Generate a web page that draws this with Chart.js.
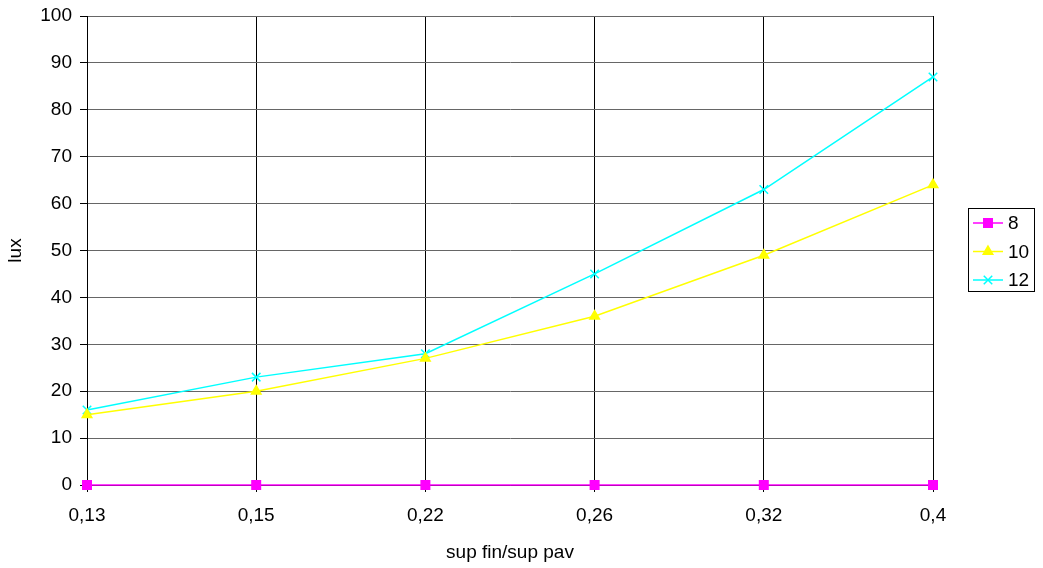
<!DOCTYPE html>
<html lang="en">
<head>
    <meta charset="UTF-8">
    <title>lux</title>
    <script src="https://cdn.jsdelivr.net/npm/chart.js"></script>
    <style>
        html, body { margin: 0; padding: 0; background: #fff; }
        #wrap { position: relative; width: 1043px; height: 568px; }
    </style>
</head>
<body>
<div id="wrap"><canvas id="myChart" width="1043" height="568"></canvas></div>
<script>
    // dữ liệu
    var categories = ['0,13', '0,15', '0,22', '0,26', '0,32', '0,4'];
    var serie8 = [0, 0, 0, 0, 0, 0];
    var serie10 = [15, 20, 27, 36, 49, 64];
    var serie12 = [16, 23, 28, 45, 63, 87];
    var seriesNames = ['8', '10', '12'];

    var font = { family: 'Arial, "Liberation Sans", sans-serif', size: 19 };

    // legend vẽ tay bên phải
    var boxLegend = {
        id: 'boxLegend',
        afterDraw: function (chart) {
            var ctx = chart.ctx;
            var x = 968.5, y = 208.5, w = 66, h = 83;
            ctx.save();
            ctx.strokeStyle = '#000';
            ctx.lineWidth = 1;
            ctx.strokeRect(x, y, w, h);
            ctx.font = '19px Arial, "Liberation Sans", sans-serif';
            ctx.textBaseline = 'middle';
            chart.data.datasets.forEach(function (ds, i) {
                var cy = 223 + i * 28.5;
                ctx.strokeStyle = ds.borderColor;
                ctx.fillStyle = ds.borderColor;
                ctx.lineWidth = 1.5;
                ctx.beginPath();
                ctx.moveTo(973, cy);
                ctx.lineTo(1003, cy);
                ctx.stroke();
                Chart.helpers.drawPoint(ctx, {
                    pointStyle: ds.pointStyle,
                    radius: ds.pointRadius,
                    borderWidth: 1.5
                }, 988, cy);
                ctx.fillStyle = '#000';
                ctx.fillText(ds.label, 1008, cy + 1);
            });
            ctx.restore();
        }
    };

    function makeSet(label, data, color, style, r) {
        return {
            label: label,
            data: data,
            borderColor: color,
            backgroundColor: color,
            pointBackgroundColor: color,
            pointBorderColor: color,
            pointStyle: style,
            pointRadius: r,
            pointBorderWidth: 1.5,
            borderWidth: 1.5,
            tension: 0,
            clip: false
        };
    }

    var ctx = document.getElementById('myChart').getContext('2d');
    var myChart = new Chart(ctx, {
        type: 'line',
        data: {
            labels: categories,
            datasets: [
                makeSet(seriesNames[0], serie8, '#FF00FF', 'rect', 6),
                makeSet(seriesNames[1], serie10, '#FFFF00', 'triangle', 5.5),
                makeSet(seriesNames[2], serie12, '#00FFFF', 'crossRot', 6)
            ]
        },
        options: {
            responsive: false,
            animation: false,
            layout: { padding: { top: 16, right: 110, left: 4, bottom: 0 } },
            plugins: {
                legend: { display: false },
                tooltip: { enabled: false }
            },
            scales: {
                x: {
                    offset: false,
                    grid: { color: '#000', lineWidth: 1, tickLength: 7, tickColor: '#000' },
                    border: { color: '#000', width: 1 },
                    ticks: { color: '#000', font: font, padding: 12, maxRotation: 0 },
                    title: { display: true, text: 'sup fin/sup pav', color: '#000', font: font, padding: { top: 12 } },
                    afterFit: function (s) { s.height = 83; s.paddingLeft = 0; s.paddingRight = 0; }
                },
                y: {
                    min: 0,
                    max: 100,
                    ticks: { stepSize: 10, color: '#000', font: font, padding: 8 },
                    grid: { color: '#666666', lineWidth: 1, tickLength: 7, tickColor: '#000' },
                    border: { color: '#000', width: 1 },
                    title: { display: true, text: 'lux', color: '#000', font: font, padding: 0 },
                    afterFit: function (s) { s.width = 83; s.paddingTop = 0; s.paddingBottom = 0; }
                }
            }
        },
        plugins: [boxLegend]
    });
</script>
</body>
</html>
